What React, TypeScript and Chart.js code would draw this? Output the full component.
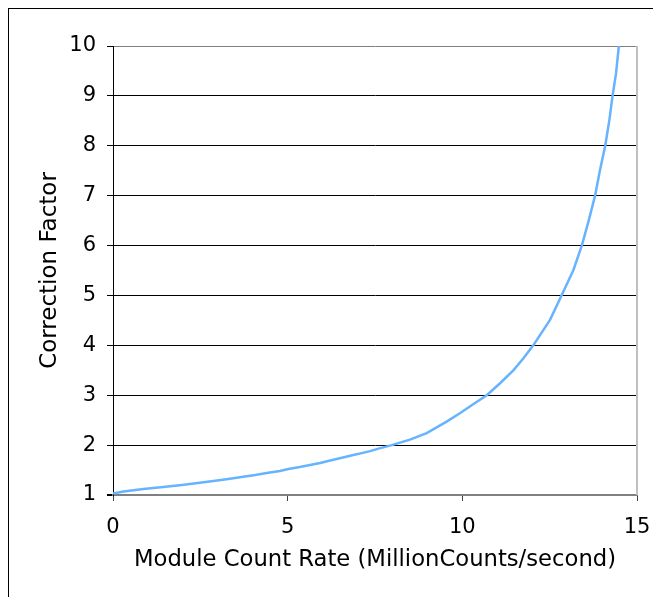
import React, { useEffect, useRef } from "react";
import { Chart, registerables } from "chart.js";

Chart.register(...registerables);

const countRate: number[] = [
  0, 0.3, 0.87, 1.44, 1.97, 2.43, 2.87, 3.3, 3.68, 4.07, 4.4, 4.78, 5.02, 5.35, 5.64, 5.93,
  6.16, 6.4, 6.64, 6.88, 7.12, 7.36, 7.6, 7.98, 8.5, 8.98, 9.55, 9.93, 10.31, 10.7, 11.08,
  11.46, 11.75, 12.03, 12.51, 12.84, 13.18, 13.42, 13.61, 13.8, 13.94, 14.09, 14.21, 14.3,
  14.4, 14.48,
];
const correction: number[] = [
  1.03, 1.07, 1.12, 1.16, 1.2, 1.24, 1.28, 1.32, 1.36, 1.4, 1.44, 1.48, 1.52, 1.56, 1.6, 1.64,
  1.68, 1.72, 1.76, 1.8, 1.84, 1.88, 1.93, 2.0, 2.11, 2.24, 2.47, 2.64, 2.82, 3.0, 3.24,
  3.5, 3.74, 4.0, 4.51, 5.0, 5.51, 6.0, 6.48, 7.0, 7.51, 8.0, 8.52, 9.0,
  9.45, 10.0,
];
const xTicks: number[] = [0, 5, 10, 15];
const yTicks: number[] = [1, 2, 3, 4, 5, 6, 7, 8, 9, 10];
const xTitle = "Module Count Rate (MillionCounts/second)";
const yTitle = "Correction Factor";

const FONT = "'DejaVu Sans', Verdana, sans-serif";

export default function App() {
  const ref = useRef<HTMLCanvasElement | null>(null);

  useEffect(() => {
    if (!ref.current) return;
    const borderPlugin = {
      id: "plotBorder",
      afterDraw(chart: any) {
        const { ctx, chartArea } = chart;
        ctx.save();
        ctx.strokeStyle = "#c0c0c0";
        ctx.lineWidth = 2;
        ctx.beginPath();
        ctx.moveTo(chartArea.right, chartArea.top);
        ctx.lineTo(chartArea.right, chartArea.bottom);
        ctx.stroke();
        ctx.restore();
      },
    };
    const chart = new Chart(ref.current, {
      type: "line",
      data: {
        datasets: [
          {
            data: countRate.map((x, i) => ({ x, y: correction[i] })),
            borderColor: "#66b3ff",
            borderWidth: 2.5,
            pointRadius: 0,
            tension: 0,
            fill: false,
          },
        ],
      },
      options: {
        animation: false,
        responsive: true,
        maintainAspectRatio: false,
        layout: { padding: { top: 37, right: 24, left: 0, bottom: 0 } },
        plugins: { legend: { display: false }, tooltip: { enabled: false } },
        scales: {
          x: {
            type: "linear",
            min: 0,
            max: 15,
            afterBuildTicks: (axis: any) => {
              axis.ticks = xTicks.map((v) => ({ value: v }));
            },
            afterFit: (axis: any) => {
              axis.height = 102;
              axis.paddingRight = 0;
              axis.paddingLeft = 0;
            },
            ticks: {
              color: "#000",
              font: { family: FONT, size: 21 },
              padding: 14,
              maxRotation: 0,
            },
            grid: {
              drawOnChartArea: false,
              drawTicks: true,
              tickLength: 6,
              tickColor: "#404040",
            },
            border: { display: true, color: "#808080", width: 2 },
            title: {
              display: true,
              text: xTitle,
              color: "#000",
              font: { family: FONT, size: 22.7 },
              padding: { top: 0, bottom: 23 },
            },
          },
          y: {
            type: "linear",
            min: 1,
            max: 10,
            afterBuildTicks: (axis: any) => {
              axis.ticks = yTicks.map((v) => ({ value: v }));
            },
            afterFit: (axis: any) => {
              axis.width = 104;
              axis.paddingTop = 0;
              axis.paddingBottom = 0;
            },
            ticks: {
              color: "#000",
              font: { family: FONT, size: 21 },
              padding: 11,
            },
            grid: {
              color: (c: any) =>
                c.tick && (c.tick.value === 10 || c.tick.value === 1) ? "#808080" : "#000",
              lineWidth: (c: any) => (c.tick && c.tick.value === 1 ? 2 : 1),
              tickLength: 6,
              tickColor: "#000",
            },
            border: { display: true, color: "#000", width: 1 },
            title: {
              display: true,
              text: yTitle,
              color: "#000",
              font: { family: FONT, size: 23 },
              padding: { top: 27, bottom: 0 },
            },
          },
        },
      },
      plugins: [borderPlugin],
    });
    return () => chart.destroy();
  }, []);

  return (
    <div
      style={{
        position: "relative",
        width: 652,
        height: 588,
        borderTop: "1px solid #000",
        borderLeft: "1px solid #000",
        background: "#fff",
      }}
    >
      <canvas ref={ref} />
    </div>
  );
}
